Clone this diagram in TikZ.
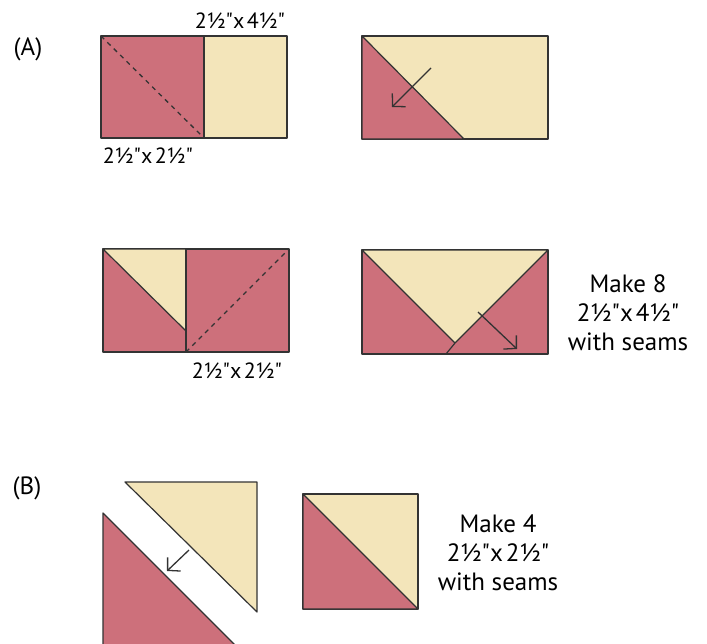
\documentclass[tikz,border=0pt]{standalone}
\usepackage{fontspec}
\newfontfamily\qfont{PT Sans}
\definecolor{QRose}{HTML}{CD707B}
\definecolor{QCream}{HTML}{F3E5BA}
\definecolor{QSeam}{HTML}{333333}
\usetikzlibrary{arrows.meta}
\newcommand{\qdim}[1]{2½"x\hspace{0.12em}#1½"}

\begin{document}
\begin{tikzpicture}[x=1pt,y=-1pt,
    patch/.style={draw=QSeam,line width=1.2pt,line join=round},
    rose/.style={patch,fill=QRose},
    cream/.style={patch,fill=QCream},
    seam/.style={draw=QSeam,line width=1.3pt,dash pattern=on 4.5pt off 4.5pt},
    press/.style={draw=QSeam,line width=1.3pt,-{Straight Barb[length=9pt,width=19pt]}},
    size/.style={font=\qfont\fontsize{22}{26}\selectfont,inner sep=0pt},
    note/.style={font=\qfont\fontsize{25}{29}\selectfont,align=center,inner sep=0pt},
    tag/.style={font=\qfont\fontsize{25}{29}\selectfont,inner sep=0pt}]
  \useasboundingbox (0,0) rectangle (707,643);
  \clip (0,0) rectangle (707,643);

  \draw[rose]  (101,36) rectangle (204,138);
  \draw[cream] (204,36) rectangle (287,138);
  \draw[seam]  (101,36) -- (204,138);

  \draw[cream] (362,36) rectangle (548,139);
  \draw[rose]  (362,36) -- (464,139) -- (362,139) -- cycle;
  \coordinate (pushA) at (431,68);
  \coordinate (pushB) at (392,107);
  \draw[press] (pushA) -- (pushB);

  \draw[rose]  (103,249) rectangle (289,352);
  \draw[cream] (103,249) -- (186,249) -- (186,331) -- cycle;
  \draw[patch] (186,249) -- (186,352);
  \draw[seam]  (186,352) -- (289,249);

  \draw[rose]  (362,250) rectangle (548,354);
  \draw[cream] (362,250) -- (548,250) -- (455,343) -- cycle;
  \draw[patch] (455,343) -- (446,354);
  \coordinate (pushC) at (478,312);
  \coordinate (pushD) at (517,349);
  \draw[press] (pushC) -- (pushD);

  \draw[cream] (125,482) -- (257,482) -- (257,612) -- cycle;
  \draw[rose]  (103,513) -- (243,653) -- (103,653) -- cycle;
  \coordinate (pushE) at (189,550);
  \coordinate (pushF) at (167,571);
  \draw[press] (pushE) -- (pushF);

  \draw[cream] (303,494) rectangle (418,609);
  \draw[rose]  (303,494) -- (418,609) -- (303,609) -- cycle;

  \node[tag]  (tagA)  at (28,49)   {(A)};
  \node[tag]  (tagB)  at (27,488)  {(B)};
  \node[size] (cutA)  at (240,21)  {\qdim{4}};
  \node[size] (cutB)  at (148,156) {\qdim{2}};
  \node[size] (cutC)  at (237,371) {\qdim{2}};
  \node[note] (makeA) at (628,313) {Make 8\\\qdim{4}\\with seams};
  \node[note] (makeB) at (498,553) {Make 4\\\qdim{2}\\with seams};
\end{tikzpicture}
\end{document}
